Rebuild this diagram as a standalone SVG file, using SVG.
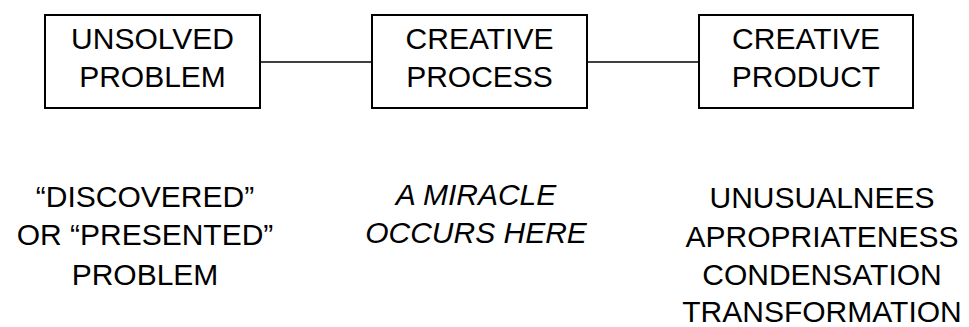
<svg xmlns="http://www.w3.org/2000/svg" width="969" height="327" viewBox="0 0 969 327">
<style>
.box{fill:#fff;stroke:#000;stroke-width:2}
.edge{stroke:#000;stroke-width:1.5;fill:none}
text{font-family:"Liberation Sans",Arial,Helvetica,sans-serif;font-size:30px;fill:#000;text-anchor:middle}
.it{font-style:italic}
</style>
<rect width="969" height="327" fill="#fff"/>
<g id="connectors">
<line class="edge" x1="260" y1="62" x2="372" y2="62"/>
<line class="edge" x1="587" y1="62" x2="699" y2="62"/>
</g>
<g id="unsolved-problem">
<rect class="box" x="45" y="15" width="215" height="93"/>
<text x="152.5" y="49">UNSOLVED</text>
<text x="152.5" y="87">PROBLEM</text>
</g>
<g id="creative-process">
<rect class="box" x="372" y="15" width="215" height="93"/>
<text x="479.5" y="49">CREATIVE</text>
<text x="479.5" y="87">PROCESS</text>
</g>
<g id="creative-product">
<rect class="box" x="699" y="15" width="214" height="93"/>
<text x="806" y="49">CREATIVE</text>
<text x="806" y="87">PRODUCT</text>
</g>
<g id="problem-label">
<text x="145" y="207">“DISCOVERED”</text>
<text x="145" y="245">OR “PRESENTED”</text>
<text x="145" y="285">PROBLEM</text>
</g>
<g id="miracle-label">
<text class="it" x="476" y="205">A MIRACLE</text>
<text class="it" x="476" y="243">OCCURS HERE</text>
</g>
<g id="product-label">
<text x="822" y="208">UNUSUALNEES</text>
<text x="822" y="247">APROPRIATENESS</text>
<text x="822" y="285">CONDENSATION</text>
<text x="822" y="322">TRANSFORMATION</text>
</g>
</svg>
